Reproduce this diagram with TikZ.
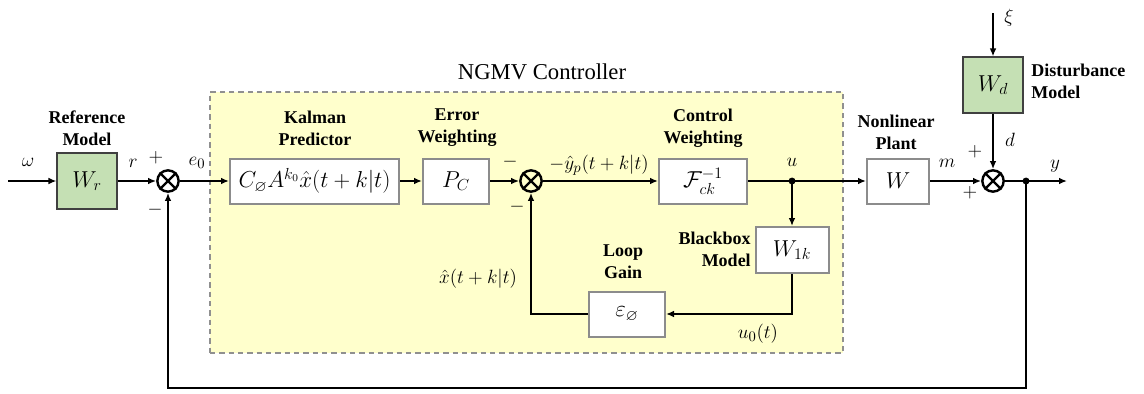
\documentclass[tikz,border=0pt]{standalone}
\usepackage{amsmath,amssymb}
\usepackage[no-math]{fontspec}
\setmainfont{LiberationSerif}[Extension=.ttf, UprightFont=*-Regular, BoldFont=*-Bold, ItalicFont=*-Italic, BoldItalicFont=*-BoldItalic]
\usetikzlibrary{arrows.meta}
\definecolor{yel}{HTML}{FFFFCC}
\definecolor{grn}{HTML}{C5E0B4}
\definecolor{boxgray}{HTML}{8C8C8C}
\definecolor{dashgray}{HTML}{909090}
\begin{document}
\begin{tikzpicture}[x=0.75pt,y=-0.75pt,
  line/.style={line width=1.5pt},
  arr/.style={line width=1.5pt,-{Latex[length=6pt,width=5pt]}},
  blk/.style={draw=boxgray, line width=1.5pt, fill=white, inner sep=0pt, minimum height=33.75pt, font=\fontsize{16.5}{19}\selectfont},
  grnblk/.style={draw=black!75, line width=0.8pt, fill=grn, inner sep=0pt, minimum width=45pt, minimum height=42pt, font=\fontsize{17}{20}\selectfont},
  sumn/.style={circle, draw, line width=1.8pt, minimum size=16pt, inner sep=0pt},
  lbl/.style={font=\fontsize{13.5}{16.5}\selectfont\bfseries, align=center, inner sep=0pt},
  mth/.style={font=\fontsize{15}{18}\selectfont, inner sep=0pt},
  ctrlbox/.style={draw=dashgray, fill=yel, line width=0.8pt, dash pattern=on 4pt off 3pt},
]
\useasboundingbox (0,0) rectangle (1144,393);
% controller region
\node[ctrlbox, minimum width=474.75pt, minimum height=195.75pt, inner sep=0pt] (ctrl) at (526.5,222.5) {};
\node[font=\fontsize{17}{20}\selectfont, inner sep=0pt] (ctrlt) at (542,72) {NGMV Controller};

% blocks
\coordinate (in) at (8,181);
\node[grnblk] (Wr) at (87,181) {$W_r$};
\node[sumn] (s1) at (168,181) {};
\node[blk, minimum width=126.75pt] (kal) at (314.5,181) {$C_{\varnothing}A^{k_0}\hat{x}(t+k|t)$};
\node[blk, minimum width=49.5pt] (pc) at (456,181) {$P_C$};
\node[sumn] (s2) at (531,181) {};
\node[blk, minimum width=66pt] (F) at (703,181) {$\mathcal{F}_{ck}^{-1}$};
\coordinate (ju) at (792,181);
\node[blk, minimum width=46.5pt] (W) at (898,181) {$W$};
\node[sumn] (s3) at (993,181) {};
\coordinate (jy) at (1026,181);
\coordinate (yend) at (1067,181);
\node[grnblk] (Wd) at (993,85) {$W_d$};
\coordinate (xi) at (993,13);
\node[blk, minimum width=54.75pt, minimum height=34.5pt] (W1k) at (792,250) {$W_{1k}$};
\node[blk, minimum width=57pt] (eps) at (627,314) {$\varepsilon_{\varnothing}$};
\coordinate (fb) at (600,388);

% crosses in summing junctions
\foreach \s in {s1,s2,s3}{
  \draw[line width=1.8pt] (\s.45) -- (\s.225) (\s.135) -- (\s.315);
}

% connectors
\draw[arr] (in) -- (Wr);
\draw[arr] (Wr) -- (s1);
\draw[arr] (s1) -- (kal);
\draw[arr] (kal) -- (pc);
\draw[arr] (pc) -- (s2);
\draw[arr] (s2) -- (F);
\draw[line] (F) -- (ju);
\draw[arr] (ju) -- (W);
\draw[arr] (ju) -- (W1k);
\draw[arr] (W) -- (s3);
\draw[line] (s3) -- (jy);
\draw[arr] (jy) -- (yend);
\draw[arr] (xi) -- (Wd);
\draw[arr] (Wd) -- (s3);
\draw[arr] (W1k.south) |- (eps.east);
\draw[arr] (eps.west) -| (s2.south);
\draw[arr] (jy) |- (fb) -| (s1.south);
\fill (ju) circle (2.6pt);
\fill (jy) circle (2.6pt);

% block titles
\node[lbl] (tWr) at (87,128) {Reference\\Model};
\node[lbl] (tkal) at (315,128) {Kalman\\Predictor};
\node[lbl] (tpc) at (457,128) {Error\\Weighting};
\node[lbl] (tF) at (703,128) {Control\\Weighting};
\node[lbl] (tW) at (896,132) {Nonlinear\\Plant};
\node[lbl, anchor=west, align=left] (tWd) at (1031,81) {Disturbance\\Model};
\node[lbl, anchor=east, align=right] (tW1k) at (751,249) {Blackbox\\Model};
\node[lbl] (teps) at (623,262) {Loop\\Gain};

% signal labels
\node[mth] (lw) at (28,162) {$\omega$};
\node[mth] (lr) at (133,163) {$r$};
\node[mth] (lp1) at (156,158) {$+$};
\node[mth] (lm1) at (155,210) {$-$};
\node[mth] (le0) at (197,163) {$e_0$};
\node[mth] (lm2) at (510,162) {$-$};
\node[mth] (lm3) at (517,207) {$-$};
\node[mth] (lyp) at (599,165) {$-\hat{y}_p(t+k|t)$};
\node[mth] (lu) at (792,162) {$u$};
\node[mth] (lm) at (947,163) {$m$};
\node[mth] (lp2) at (975,152) {$+$};
\node[mth] (lp3) at (970,193) {$+$};
\node[mth] (ld) at (1010,140) {$d$};
\node[mth] (lxi) at (1009,18) {$\xi$};
\node[mth] (ly) at (1055,166) {$y$};
\node[mth] (lxh) at (478,279) {$\hat{x}(t+k|t)$};
\node[mth] (lu0) at (758,334) {$u_0(t)$};
\end{tikzpicture}
\end{document}
